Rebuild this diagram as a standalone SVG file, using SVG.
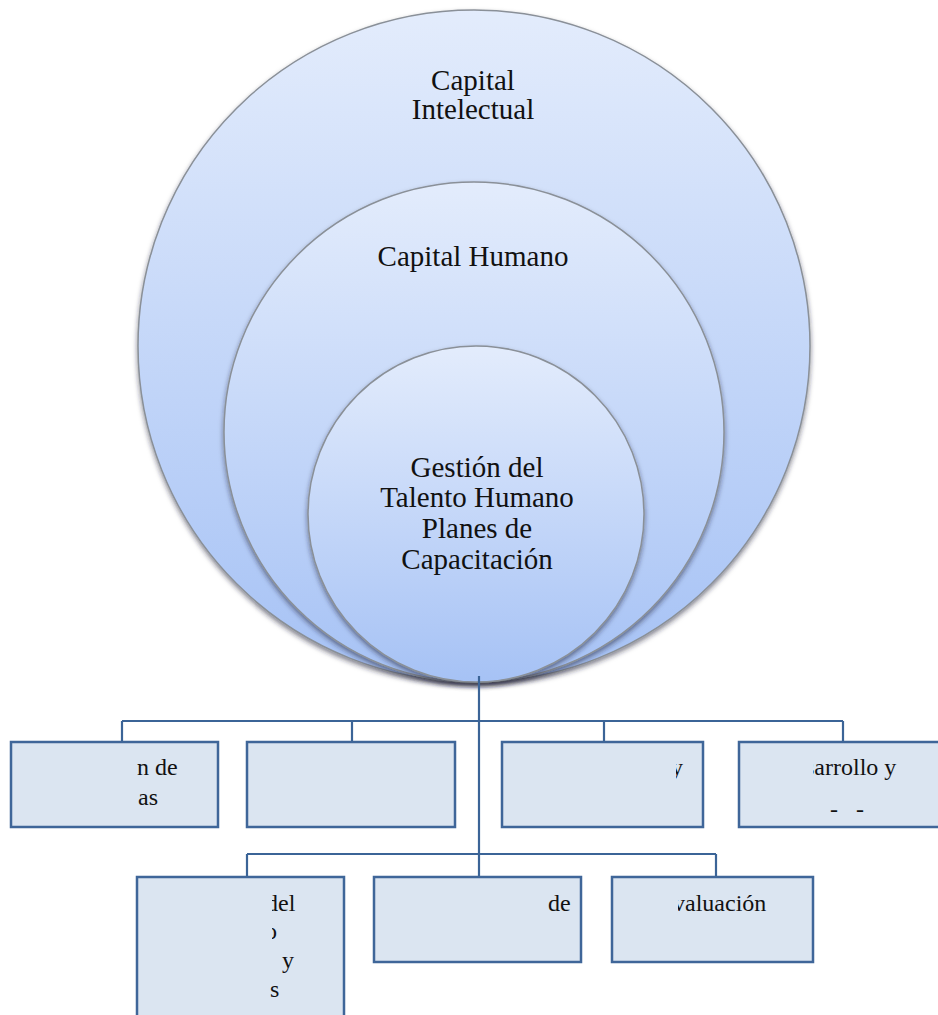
<svg xmlns="http://www.w3.org/2000/svg" width="938" height="1015" viewBox="0 0 938 1015">
<style>
.circ{stroke:#8a9098;stroke-width:1.5;filter:url(#sh)}
.ct{font-family:"Liberation Serif","Times New Roman",serif;font-size:29px;fill:#111;text-anchor:middle}
.box{fill:#dbe5f1;stroke:#3f6699;stroke-width:2.5}
.bt{font-family:"Liberation Serif","Times New Roman",serif;font-size:24px;fill:#111}
.con{fill:none;stroke:#3b6497;stroke-width:2.2}
</style>
<defs>
<linearGradient id="g1" x1="0" y1="0" x2="0" y2="1">
<stop offset="0" stop-color="#e3ecfc"/>
<stop offset="1" stop-color="#a6c2f5"/>
</linearGradient>
<filter id="sh" x="-10%" y="-10%" width="120%" height="125%">
<feDropShadow dx="0" dy="3" stdDeviation="2.5" flood-color="#1a2235" flood-opacity="0.55"/>
</filter>
<clipPath id="c3"><rect x="676" y="740" width="30" height="90"/></clipPath>
<clipPath id="c4"><rect x="813" y="740" width="130" height="90"/></clipPath>
<clipPath id="c5"><rect x="272" y="880" width="70" height="70"/></clipPath>
<clipPath id="c7"><rect x="678" y="880" width="130" height="80"/></clipPath>
</defs>
<g id="capital-intelectual">
<circle class="circ" cx="474" cy="346" r="336" fill="url(#g1)"/>
<text class="ct" x="473" y="90">Capital</text>
<text class="ct" x="473" y="119">Intelectual</text>
</g>
<g id="capital-humano">
<circle class="circ" cx="474" cy="432" r="250" fill="url(#g1)"/>
<text class="ct" x="473" y="266">Capital Humano</text>
</g>
<g id="gestion-talento">
<circle class="circ" cx="476" cy="514" r="168" fill="url(#g1)"/>
<text class="ct" x="477" y="477">Gestión del</text>
<text class="ct" x="477" y="507">Talento Humano</text>
<text class="ct" x="477" y="538">Planes de</text>
<text class="ct" x="477" y="569">Capacitación</text>
</g>
<g id="connectors">
<path class="con" d="M479 676V877M122 721H843M122 721V742M352 721V742M604 721V742M843 721V742M247 854H716M247 854V877M716 854V877"/>
</g>
<g id="box1">
<rect class="box" x="11" y="742" width="207" height="85"/>
<text class="bt" x="137" y="775">n de</text>
<text class="bt" x="138" y="805">as</text>
</g>
<g id="box2">
<rect class="box" x="247" y="742" width="208" height="85"/>
</g>
<g id="box3">
<rect class="box" x="502" y="742" width="201" height="85"/>
<text class="bt" x="671" y="775" clip-path="url(#c3)">y</text>
</g>
<g id="box4">
<rect class="box" x="739" y="742" width="210" height="85"/>
<text class="bt" x="805" y="775" clip-path="url(#c4)">sarrollo  y</text>
<text class="bt" x="830" y="817" font-size="10">-</text>
<text class="bt" x="856" y="817" font-size="10">-</text>
</g>
<g id="box5">
<rect class="box" x="137" y="877" width="207" height="145"/>
<text class="bt" x="266" y="911" clip-path="url(#c5)">del</text>
<text class="bt" x="265" y="939" clip-path="url(#c5)">o</text>
<text class="bt" x="282" y="968">y</text>
<text class="bt" x="270" y="997">s</text>
</g>
<g id="box6">
<rect class="box" x="374" y="877" width="207" height="85"/>
<text class="bt" x="548" y="911">de</text>
</g>
<g id="box7">
<rect class="box" x="612" y="877" width="201" height="85"/>
<text class="bt" x="673" y="911" clip-path="url(#c7)">valuación</text>
</g>
</svg>
